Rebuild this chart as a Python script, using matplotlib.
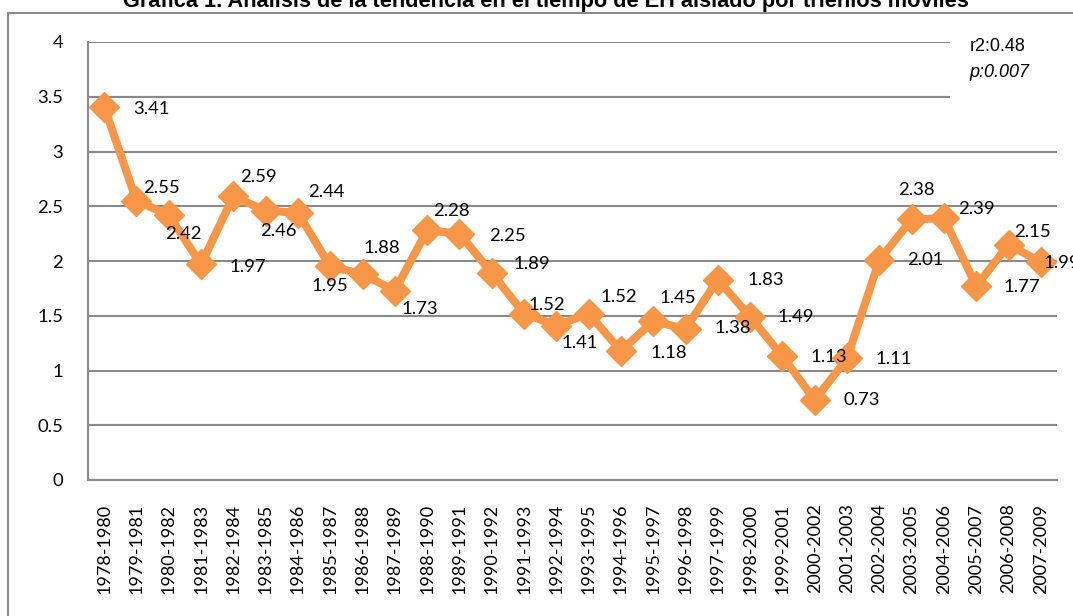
import matplotlib.pyplot as plt
from matplotlib.patches import Rectangle
import numpy as np

# Trienios móviles y valores
periodos = ["1978-1980", "1979-1981", "1980-1982", "1981-1983", "1982-1984",
            "1983-1985", "1984-1986", "1985-1987", "1986-1988", "1987-1989",
            "1988-1990", "1989-1991", "1990-1992", "1991-1993", "1992-1994",
            "1993-1995", "1994-1996", "1995-1997", "1996-1998", "1997-1999",
            "1998-2000", "1999-2001", "2000-2002", "2001-2003", "2002-2004",
            "2003-2005", "2004-2006", "2005-2007", "2006-2008", "2007-2009"]
valores = [3.41, 2.55, 2.42, 1.97, 2.59, 2.46, 2.44, 1.95, 1.88, 1.73,
           2.28, 2.25, 1.89, 1.52, 1.41, 1.52, 1.18, 1.45, 1.38, 1.83,
           1.49, 1.13, 0.73, 1.11, 2.01, 2.38, 2.39, 1.77, 2.15, 1.99]
yticks = [0, 0.5, 1, 1.5, 2, 2.5, 3, 3.5, 4]

titulo = "Gráfica 1. Análisis de la tendencia en el tiempo de EH aislado por trienios móviles"
r2_txt = "r2:0.48"
p_txt = "p:0.007"

# desplazamiento de cada etiqueta respecto a su marcador (px, y hacia abajo)
offsets = [(47, 2), (25, -13), (15, 19), (47, 3), (25, -19), (13, 20),
           (28, -21), (0, 20), (19, -26), (25, 18), (24, -19), (48, 2),
           (40, -9), (23, -9), (23, 17), (30, -17), (48, 2), (25, -23),
           (47, -1), (48, 0), (46, 0), (46, 1), (47, 0), (47, 1),
           (46, 0), (5, -29), (33, -9), (46, 1), (24, -13), (21, 1)]

naranja = "#F79646"
gris = "#8A8A8A"
fuente = "Lato"

fig = plt.figure(figsize=(10.73, 6.16), dpi=100)
ax = fig.add_axes([88 / 1073, 1 - 480 / 616, 969 / 1073, 438 / 616])

# marco exterior del gráfico
fig.add_artist(Rectangle((8 / 1073, -0.2), 1.5, 1.2 - 13 / 616,
                         transform=fig.transFigure, fill=False,
                         edgecolor=gris, linewidth=1.5))
fig.text(546 / 1073, 1 - 7 / 616, titulo, ha="center", va="baseline",
         family="Liberation Sans", fontweight="bold", fontsize=15.7)

x = np.arange(len(periodos))
ax.plot(x, valores, color=naranja, linewidth=5.8, marker="D", markersize=15,
        markeredgecolor=naranja, markeredgewidth=1, zorder=3,
        solid_joinstyle="miter")

for xi, v, (dx, dy) in zip(x, valores, offsets):
    ax.annotate(f"{v:.2f}", (xi, v), xytext=(dx, -dy),
                textcoords="offset pixels", ha="center", va="center",
                family=fuente, fontsize=13.3, color="black",
                zorder=5, annotation_clip=False)

ax.set_xlim(-0.5, len(periodos) - 0.5)
ax.set_ylim(0, 4)
ax.set_yticks(yticks)
ax.set_yticklabels([f"{t:g}" for t in yticks], family=fuente, fontsize=13.3)
ax.set_xticks(x)
ax.set_xticklabels(periodos, rotation=90, family=fuente, fontsize=13)
ax.tick_params(axis="both", length=0)
ax.tick_params(axis="x", pad=17)
ax.tick_params(axis="y", pad=18)

ax.set_axisbelow(True)
ax.yaxis.grid(True, color=gris, linewidth=1.5)
ax.xaxis.grid(False)
for s in ["top", "right"]:
    ax.spines[s].set_visible(False)
for s in ["left", "bottom"]:
    ax.spines[s].set_color(gris)
    ax.spines[s].set_linewidth(1.5)

# cuadro con el ajuste de tendencia
ax.add_patch(Rectangle((0.8896, 0.8676), 0.12, 0.17, transform=ax.transAxes,
                       facecolor="white", edgecolor="none", zorder=2,
                       clip_on=False))
ax.text(0.910, 0.9886, r2_txt, transform=ax.transAxes, ha="left", va="center",
        family="Liberation Sans", fontsize=13, zorder=4)
ax.text(0.910, 0.9315, p_txt, transform=ax.transAxes, ha="left", va="center",
        family="Liberation Sans", fontsize=13, style="italic", zorder=4)

fig.savefig("out.png", dpi=100)
